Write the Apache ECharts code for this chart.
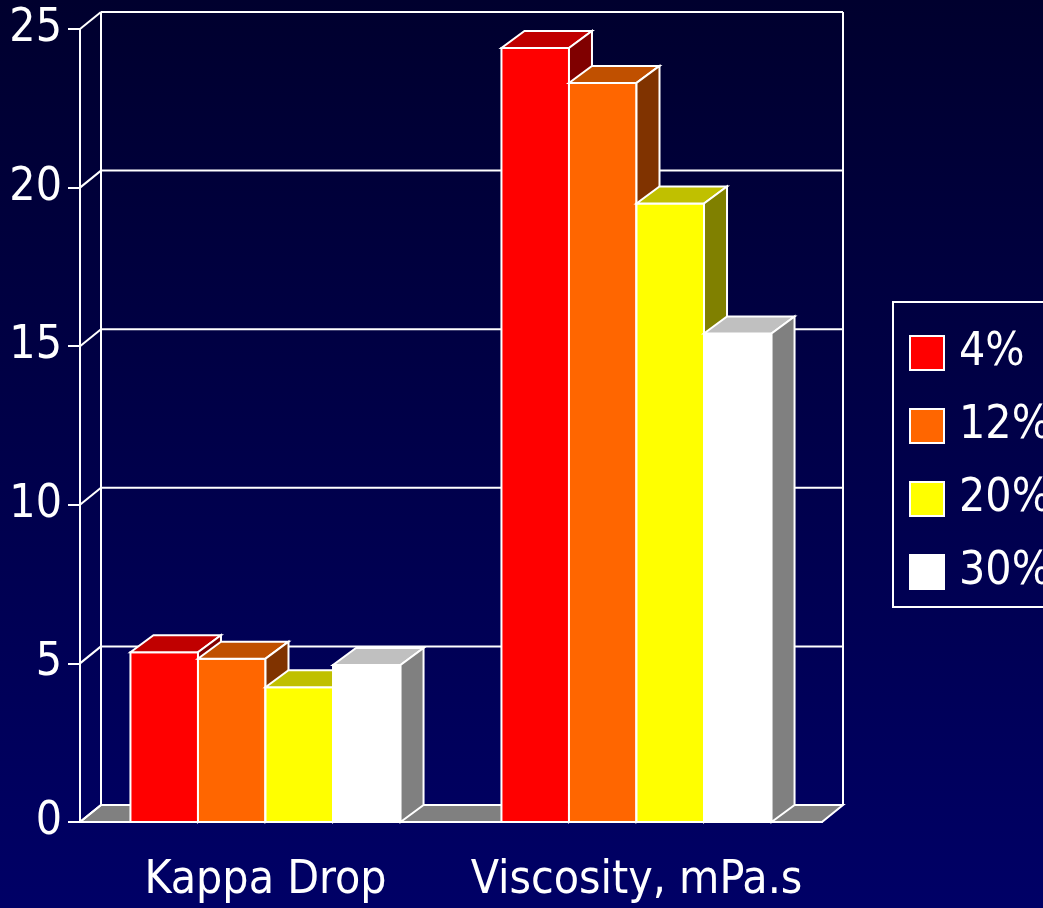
<!DOCTYPE html>
<html>
<head>
<meta charset="utf-8">
<script src="https://cdn.jsdelivr.net/npm/echarts@6/dist/echarts.min.js"></script>
<style>
  html, body { margin: 0; padding: 0; }
  #chart { width: 1043px; height: 908px; }
</style>
</head>
<body>
<div id="chart"></div>
<script>
const categories = ['Kappa Drop', 'Viscosity, mPa.s']
const seriesNames = ['4%', '12%', '20%', '30%']
const values4 = [5.35, 24.4]
const values12 = [5.15, 23.3]
const values20 = [4.25, 19.5]
const values30 = [4.95, 15.4]
const yTicks = [0, 5, 10, 15, 20, 25]

const frontColors = ['#ff0000', '#ff6600', '#ffff00', '#ffffff']
const topColors = ['#c00000', '#c05000', '#c0c000', '#c0c0c0']
const sideColors = ['#800000', '#803300', '#808000', '#808080']

const FONT = "'Liberation Sans Narrow', 'DejaVu Sans Condensed', sans-serif"
const WALL_DX = 21, WALL_DY = -17
const BAR_DX = 23, BAR_DY = -17
const edge = { stroke: '#fff', lineWidth: 2 }

const chart = echarts.init(document.getElementById('chart'))

const wallItem = (params, api) => {
  const cs = params.coordSys
  const left = cs.x, right = cs.x + cs.width
  const bottom = api.coord([0, 0])[1]
  const top = api.coord([0, yTicks[yTicks.length - 1]])[1]
  const children = []
  children.push({
    type: 'polygon',
    shape: { points: [[left, bottom], [right, bottom], [right + WALL_DX, bottom + WALL_DY], [left + WALL_DX, bottom + WALL_DY]] },
    style: { fill: '#808080', ...edge }
  })
  yTicks.forEach(v => {
    const y = api.coord([0, v])[1]
    children.push({ type: 'line', shape: { x1: left, y1: y, x2: left + WALL_DX, y2: y + WALL_DY }, style: edge })
    if (v > 0) {
      children.push({ type: 'line', shape: { x1: left + WALL_DX, y1: y + WALL_DY, x2: right + WALL_DX, y2: y + WALL_DY }, style: edge })
    }
  })
  children.push({ type: 'line', shape: { x1: left + WALL_DX, y1: bottom + WALL_DY, x2: left + WALL_DX, y2: top + WALL_DY }, style: edge })
  children.push({ type: 'line', shape: { x1: right + WALL_DX, y1: bottom + WALL_DY, x2: right + WALL_DX, y2: top + WALL_DY }, style: edge })
  return { type: 'group', children }
}

const barItem = s => (params, api) => {
  const ci = api.value(0)
  const base = api.coord([ci, 0])
  const tp = api.coord([ci, api.value(1)])
  const bw = api.size([1, 0])[0] * 0.182
  const x0 = base[0] + (s - 2) * bw
  const x1 = x0 + bw
  const y0 = base[1], y1 = tp[1]
  return {
    type: 'group',
    children: [
      { type: 'polygon', shape: { points: [[x0, y0], [x1, y0], [x1, y1], [x0, y1]] }, style: { fill: frontColors[s], ...edge } },
      { type: 'polygon', shape: { points: [[x0, y1], [x1, y1], [x1 + BAR_DX, y1 + BAR_DY], [x0 + BAR_DX, y1 + BAR_DY]] }, style: { fill: topColors[s], ...edge } },
      { type: 'polygon', shape: { points: [[x1, y0], [x1 + BAR_DX, y0 + BAR_DY], [x1 + BAR_DX, y1 + BAR_DY], [x1, y1]] }, style: { fill: sideColors[s], ...edge } }
    ]
  }
}

const allValues = [values4, values12, values20, values30]

chart.setOption({
  backgroundColor: {
    type: 'linear', x: 0, y: 0, x2: 0, y2: 1,
    colorStops: [{ offset: 0, color: '#00002e' }, { offset: 1, color: '#000066' }]
  },
  animation: false,
  textStyle: { fontFamily: FONT },
  grid: { left: 80, right: 221, top: 29, bottom: 86 },
  legend: {
    data: seriesNames,
    orient: 'vertical',
    left: 893,
    top: 302,
    padding: [28, 60, 12, 16],
    borderColor: '#fff',
    borderWidth: 2,
    icon: 'rect',
    itemWidth: 34,
    itemHeight: 34,
    itemGap: 27,
    itemTextGap: 14,
    textStyle: { color: '#fff', fontSize: 46, fontFamily: FONT, padding: [0, 0, 0, 10] }
  },
  xAxis: {
    type: 'category',
    data: categories,
    axisLine: { lineStyle: { color: '#fff', width: 2 } },
    axisTick: { length: 10, lineStyle: { color: '#fff', width: 2 } },
    axisLabel: { color: '#fff', fontSize: 46, fontFamily: FONT, margin: 36, interval: 0, hideOverlap: false }
  },
  yAxis: {
    type: 'value',
    min: 0,
    max: 25,
    interval: 5,
    axisLine: { show: true, lineStyle: { color: '#fff', width: 2 } },
    axisTick: { show: true, length: 12, lineStyle: { color: '#fff', width: 2 } },
    axisLabel: { color: '#fff', fontSize: 46, fontFamily: FONT, margin: 18 },
    splitLine: { show: false }
  },
  series: [
    {
      type: 'custom',
      name: 'walls',
      z: 1,
      clip: false,
      silent: true,
      renderItem: wallItem,
      data: [[0, 0]],
      encode: { x: 0, y: 1 }
    },
    ...seriesNames.map((name, s) => ({
      type: 'custom',
      name,
      z: 2,
      clip: false,
      itemStyle: { color: frontColors[s], borderColor: '#fff', borderWidth: 1.5 },
      renderItem: barItem(s),
      data: categories.map((c, i) => [i, allValues[s][i]]),
      encode: { x: 0, y: 1 }
    }))
  ]
})

window.addEventListener('resize', () => chart.resize())
</script>
</body>
</html>
